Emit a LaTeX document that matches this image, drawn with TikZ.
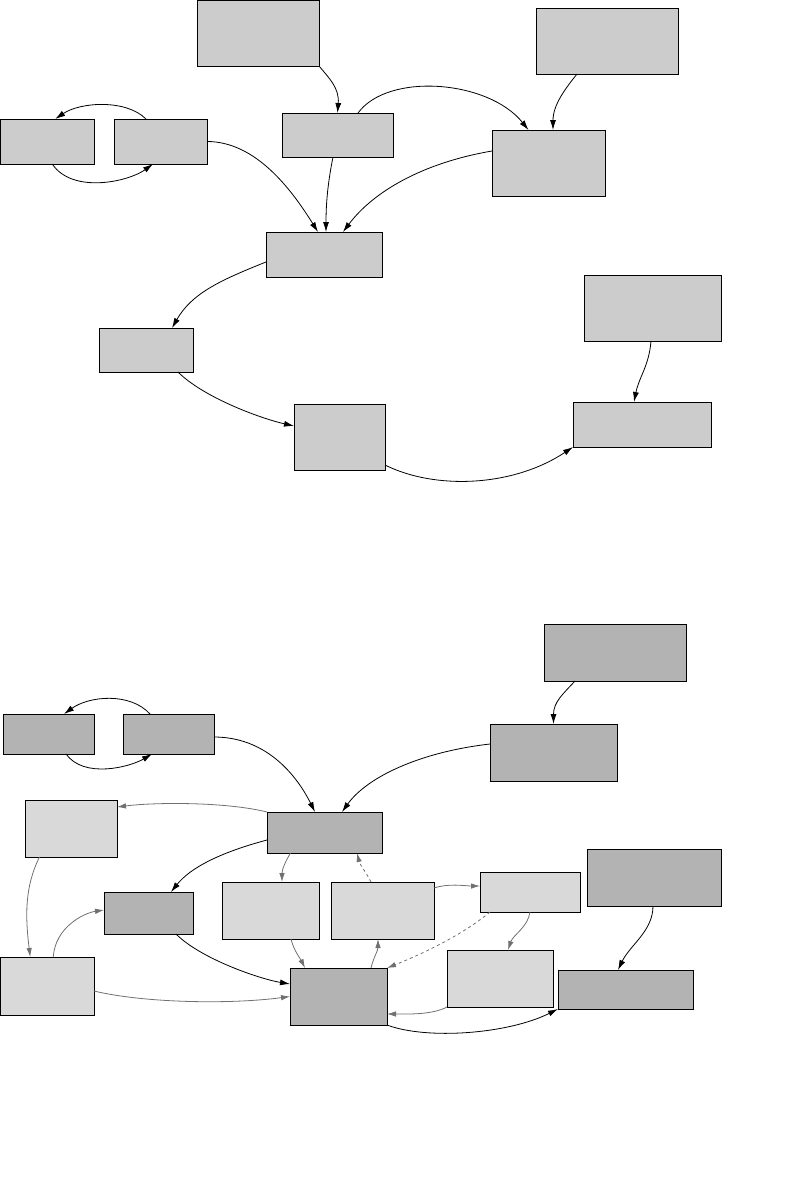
\documentclass[tikz,border=0pt]{standalone}
\usetikzlibrary{arrows.meta}
\definecolor{topfill}{HTML}{CCCCCC}
\definecolor{darkfill}{HTML}{B3B3B3}
\definecolor{lightfill}{HTML}{D9D9D9}
\definecolor{edgegray}{HTML}{707070}
\tikzset{
  box/.style={draw=black, line width=0.9pt, rectangle, inner sep=0pt, outer sep=0pt},
  tbox/.style={box, fill=topfill},
  dbox/.style={box, fill=darkfill},
  lbox/.style={box, fill=lightfill},
  blk/.style={draw=black, line width=0.8pt, -{Latex[length=10pt,width=6pt]}},
  gry/.style={draw=edgegray, line width=0.8pt, -{Latex[length=9pt,width=5.5pt]}},
}
\newcommand\bx[6]{\node[#6, minimum width={(#4-#2)*1pt}, minimum height={(#5-#3)*1pt}] (#1) at ({(#2+#4)/2},{(#3+#5)/2}) {};}
\begin{document}
\begin{tikzpicture}[x=1pt,y=-1pt]
\useasboundingbox (0,0) rectangle (794,1191);
% ---------- top diagram ----------
\bx{A}{197}{0}{319}{66}{tbox}
\bx{B}{536}{8}{678}{74}{tbox}
\bx{Ca}{0.5}{119}{94}{164}{tbox}
\bx{Cb}{114}{119}{207}{164}{tbox}
\bx{D}{282}{113}{393}{157}{tbox}
\bx{E}{492}{130}{605}{196}{tbox}
\bx{F}{266}{232}{382}{277}{tbox}
\bx{G}{99}{328}{193}{372}{tbox}
\bx{H}{294}{404}{385}{470}{tbox}
\bx{I}{584}{275}{721}{341}{tbox}
\bx{J}{573}{402}{711}{447}{tbox}

\draw[blk] (A.south east) .. controls +(10,12) and +(2,-25) .. (D.north);
\draw[blk] ([xshift=20.5pt]D.north) .. controls +(30,-41) and +(-40,-50) .. ([xshift=-20pt]E.north);
\draw[blk] ([xshift=-30pt]B.south) .. controls +(-12,15) and +(0,-25) .. ([xshift=4.5pt]E.north);
\draw[blk] ([xshift=-14.5pt]Cb.north) .. controls +(-20,-20) and +(25,-17) .. ([xshift=8pt]Ca.north);
\draw[blk] ([xshift=5pt]Ca.south) .. controls +(20,30) and +(-25,18) .. ([xshift=-7.5pt]Cb.south);
\draw[blk] (Cb.east) .. controls +(50,0) and +(-25,-40) .. ([xshift=-6pt]F.north);
\draw[blk] ([xshift=-4.5pt]D.south) .. controls +(-5,25) and +(0,-30) .. ([xshift=2pt]F.north);
\draw[blk] ([yshift=12pt]E.west) .. controls +(-70,12) and +(30,-40) .. ([xshift=19pt]F.north);
\draw[blk] ([yshift=-7.5pt]F.west) .. controls +(-45,18) and +(20,-35) .. ([xshift=26pt]G.north);
\draw[blk] ([xshift=32pt]G.south) .. controls +(25,25) and +(-35,-8) .. ([yshift=11pt]H.west);
\draw[blk] ([yshift=5pt]H.south east) .. controls +(50,25) and +(-60,40) .. (J.south west);
\draw[blk] ([xshift=-1.5pt]I.south) .. controls +(-2,25) and +(5,-25) .. ([xshift=-8pt]J.north);

% ---------- bottom diagram ----------
\bx{Ka}{3}{714}{94}{754}{dbox}
\bx{Kb}{123}{714}{214}{754}{dbox}
\bx{L}{25}{800}{117}{857}{lbox}
\bx{M}{267}{812}{382}{853}{dbox}
\bx{N}{544}{624}{686}{681}{dbox}
\bx{O}{490}{724}{617}{781}{dbox}
\bx{P}{104}{892}{193}{934}{dbox}
\bx{Q}{222}{882}{319}{939}{lbox}
\bx{R}{331}{882}{434}{939}{lbox}
\bx{S}{480}{872}{580}{912}{lbox}
\bx{T}{587}{849}{721}{906}{dbox}
\bx{U}{0.5}{957}{94}{1015}{lbox}
\bx{V}{290}{968}{387}{1025}{dbox}
\bx{W}{447}{950}{553}{1007}{lbox}
\bx{X}{558}{970}{693}{1009}{dbox}

% black connectors
\draw[blk] ([xshift=-18.5pt]Kb.north) .. controls +(-20,-22) and +(25,-18) .. ([xshift=15.5pt]Ka.north);
\draw[blk] ([xshift=17.5pt]Ka.south) .. controls +(18,25) and +(-22,13) .. ([xshift=-16.5pt]Kb.south);
\draw[blk] ([yshift=-3pt]Kb.east) .. controls +(50,0) and +(-20,-40) .. ([xshift=-9.5pt]M.north);
\draw[blk] ([yshift=8.5pt]O.west) .. controls +(-70,8) and +(25,-35) .. ([xshift=17.5pt]M.north);
\draw[blk] ([xshift=-40pt]N.south) .. controls +(-12,13) and +(0,-22) .. (O.north);
\draw[blk] ([yshift=-7.5pt]M.west) .. controls +(-45,12) and +(20,-25) .. ([xshift=22.5pt]P.north);
\draw[blk] ([xshift=27.5pt]P.south) .. controls +(25,25) and +(-30,-5) .. ([yshift=12.5pt]V.west);
\draw[blk] (V.south east) .. controls +(40,15) and +(-50,25) .. (X.south west);
\draw[blk] ([xshift=-1pt]T.south) .. controls +(0,25) and +(12,-25) .. ([xshift=-7.5pt]X.north);

% gray connectors
\draw[gry] (M.north west) .. controls +(-40,-10) and +(40,-5) .. ([yshift=21.5pt]L.east);
\draw[gry] ([xshift=-31.5pt]L.south) .. controls +(-15,30) and +(-5,-40) .. ([xshift=-17pt]U.north);
\draw[gry] ([xshift=6pt]U.north) .. controls +(2,-30) and +(-20,3) .. ([yshift=3pt]P.west);
\draw[gry] ([yshift=-5pt]U.east) .. controls +(50,12) and +(-60,8) .. (V.west);
\draw[gry] ([xshift=-34pt]M.south) .. controls +(-6,10) and +(0,-12) .. ([xshift=11.5pt]Q.north);
\draw[gry, dashed] ([xshift=-11.5pt]R.north) .. controls +(-5,-10) and +(3,12) .. ([xshift=32.5pt]M.south);
\draw[gry] ([yshift=-6pt]R.north east) .. controls +(15,-5) and +(-15,0) .. ([yshift=6pt]S.west);
\draw[gry] ([xshift=20.5pt]Q.south) .. controls +(3,12) and +(-5,-10) .. ([xshift=-33.5pt]V.north);
\draw[gry] ([xshift=32.5pt]V.north) .. controls +(3,-12) and +(0,12) .. ([xshift=-4.5pt]R.south);
\draw[gry, dashed] ([xshift=10pt]S.south west) .. controls +(-30,25) and +(30,-12) .. (V.north east);
\draw[gry] (S.south) .. controls +(-2,15) and +(5,-15) .. ([xshift=8pt]W.north);
\draw[gry] (W.south west) .. controls +(-15,8) and +(20,0) .. ([yshift=-17.5pt]V.east);
\end{tikzpicture}
\end{document}
